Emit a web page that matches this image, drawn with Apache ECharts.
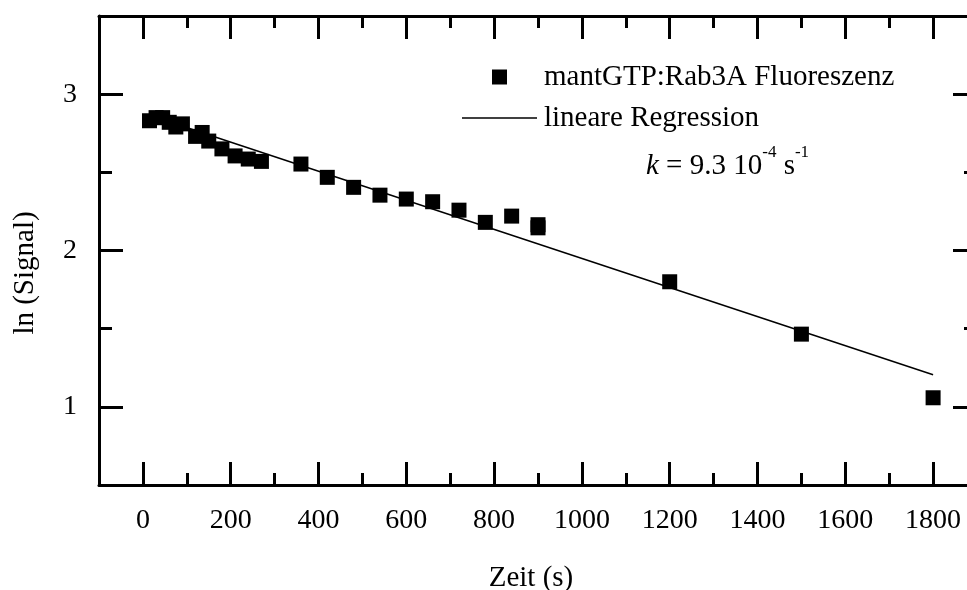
<!DOCTYPE html>
<html><head><meta charset="utf-8">
<script src="https://cdn.jsdelivr.net/npm/echarts@6/dist/echarts.min.js"></script>
<style>html,body{margin:0;padding:0;background:#fff}#c{width:967px;height:590px}</style>
</head><body><div id="c"></div>
<script>
// ---- data ----
const timeS = [15, 30, 45, 60, 75, 90, 120, 135, 150, 180, 210, 240, 270,
               360, 420, 480, 540, 600, 660, 720, 780, 840, 900, 900, 1200, 1500, 1800];
const lnSignal = [2.83, 2.85, 2.85, 2.82, 2.79, 2.81, 2.73, 2.755, 2.70, 2.65, 2.605, 2.585, 2.57,
                  2.553, 2.468, 2.404, 2.354, 2.329, 2.312, 2.258, 2.18, 2.22, 2.165, 2.145, 1.80, 1.465, 1.058];
const fitTime = [15, 1800];
const fitValue = [2.865, 1.205];
const xMajorTicks = [0, 200, 400, 600, 800, 1000, 1200, 1400, 1600, 1800];
const xMinorTicks = [100, 300, 500, 700, 900, 1100, 1300, 1500, 1700];
const yMajorTicks = [1, 2, 3];
const yMinorTicks = [1.5, 2.5];
const scatterName = 'mantGTP:Rab3A Fluoreszenz';
const lineName = 'lineare Regression';

const FONT = '"Liberation Serif", "Times New Roman", serif';
const FS = 29;
const XMIN = -100, XMAX = 1900, YMIN = 0.5, YMAX = 3.5;
const plain = v => String(v);

function xAx(pos, major, showLine, showLabel) {
  return {
    type: 'value', position: pos, min: XMIN, max: XMAX,
    axisLine: { show: showLine, onZero: false, lineStyle: { color: '#000', width: 3 } },
    axisTick: { show: true, inside: true, length: major ? 23 : 12,
                customValues: major ? xMajorTicks : xMinorTicks,
                lineStyle: { color: '#000', width: 3 } },
    axisLabel: { show: showLabel, customValues: xMajorTicks, margin: 22, formatter: plain,
                 color: '#000', fontSize: FS - 1, fontFamily: FONT },
    splitLine: { show: false }
  };
}
function yAx(pos, major, showLine, showLabel) {
  return {
    type: 'value', position: pos, min: YMIN, max: YMAX,
    axisLine: { show: showLine, onZero: false, lineStyle: { color: '#000', width: 3 } },
    axisTick: { show: true, inside: true, length: major ? 24 : 13,
                customValues: major ? yMajorTicks : yMinorTicks,
                lineStyle: { color: '#000', width: 3 } },
    axisLabel: { show: showLabel, customValues: yMajorTicks, margin: 22, formatter: plain,
                 color: '#000', fontSize: FS - 1, fontFamily: FONT },
    splitLine: { show: false }
  };
}

const chart = echarts.init(document.getElementById('c'), null, { renderer: 'canvas' });
chart.setOption({
  animation: false,
  backgroundColor: '#fff',
  grid: { left: 99, top: 16, width: 878, height: 469, outerBoundsMode: 'none', containLabel: false },
  xAxis: [xAx('bottom', true, true, true), xAx('bottom', false, false, false),
          xAx('top', true, true, false), xAx('top', false, false, false)],
  yAxis: [yAx('left', true, true, true), yAx('left', false, false, false),
          yAx('right', true, true, false), yAx('right', false, false, false)],
  legend: [
    { data: [{ name: scatterName, icon: 'rect' }], selectedMode: false, padding: 0,
      left: 492, top: 62.5, itemWidth: 15, itemHeight: 15,
      textStyle: { color: '#000', fontSize: FS, fontFamily: FONT, padding: [0, 0, 0, 32] } },
    { data: [{ name: lineName, icon: 'rect' }], selectedMode: false, padding: 0,
      left: 462, top: 103.5, itemWidth: 75, itemHeight: 1.5,
      itemStyle: { color: '#000' },
      textStyle: { color: '#000', fontSize: FS, fontFamily: FONT, padding: [0, 0, 0, 2] } }
  ],
  series: [
    { name: lineName, type: 'line', xAxisIndex: 0, yAxisIndex: 0, z: 2,
      data: fitTime.map((t, i) => [t, fitValue[i]]), symbol: 'none', showSymbol: false,
      lineStyle: { color: '#000', width: 1.5 }, itemStyle: { color: '#000' } },
    { name: scatterName, type: 'scatter', xAxisIndex: 0, yAxisIndex: 0, z: 3,
      data: timeS.map((t, i) => [t, lnSignal[i]]), symbol: 'rect', symbolSize: 15,
      itemStyle: { color: '#000', opacity: 1 } }
  ],
  graphic: [
    { type: 'text', x: 25, y: 273, rotation: Math.PI / 2,
      style: { text: 'ln (Signal)', fill: '#000', font: FS + 'px ' + FONT, align: 'center', verticalAlign: 'middle' } },
    { type: 'text', x: 531, y: 578,
      style: { text: 'Zeit (s)', fill: '#000', font: FS + 'px ' + FONT, align: 'center', verticalAlign: 'middle' } },
    { type: 'text', x: 646, y: 166,
      style: {
        text: '{i|k}{n| = 9.3 10}{s|-4}{n| s}{s|-1}', fill: '#000', align: 'left', verticalAlign: 'middle',
        rich: {
          i: { fontStyle: 'italic', fontSize: FS, fontFamily: FONT, lineHeight: 44, fill: '#000' },
          n: { fontSize: FS, fontFamily: FONT, lineHeight: 44, fill: '#000' },
          s: { fontSize: 17, fontFamily: FONT, lineHeight: 17, verticalAlign: 'top', fill: '#000' }
        }
      } }
  ]
});
</script>
</body></html>
